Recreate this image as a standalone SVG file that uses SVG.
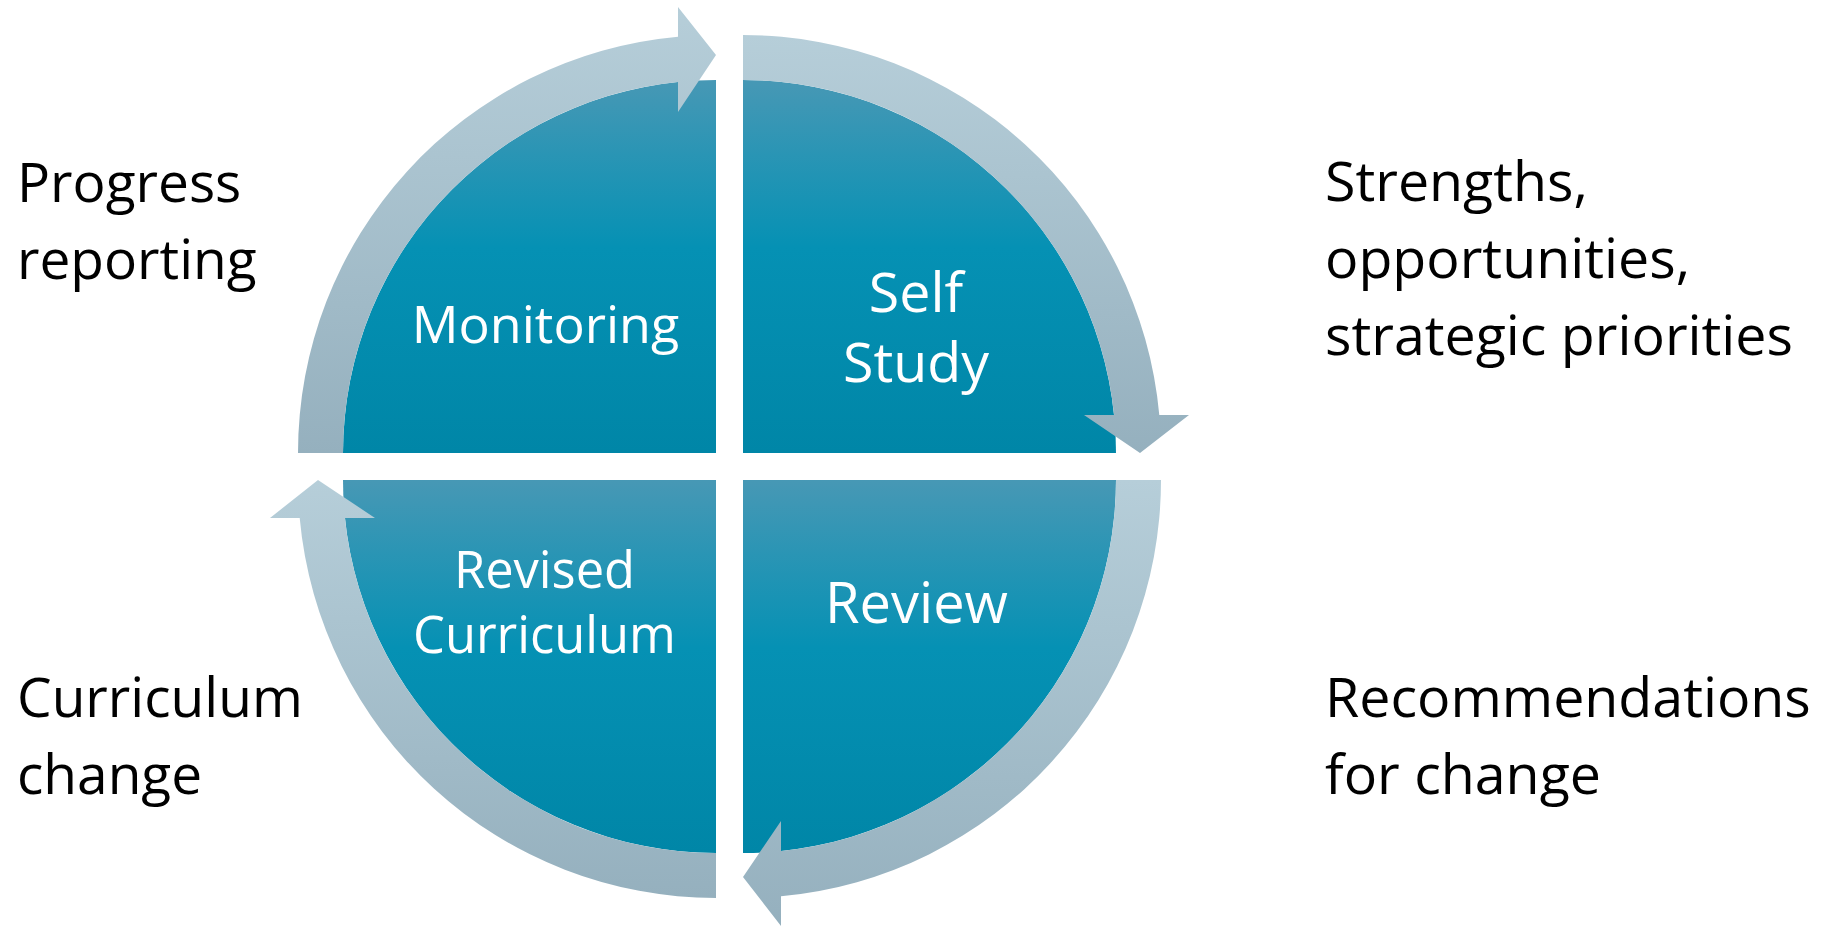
<svg xmlns="http://www.w3.org/2000/svg" width="1829" height="930" viewBox="0 0 1829 930">
  <defs>
    <linearGradient id="gFill" x1="0" y1="0" x2="0" y2="1">
      <stop offset="0" stop-color="#4798b5"/>
      <stop offset="0.45" stop-color="#0591b4"/>
      <stop offset="1" stop-color="#0086a7"/>
    </linearGradient>
    <linearGradient id="gArrow" x1="0" y1="0" x2="0" y2="1">
      <stop offset="0" stop-color="#b6ced9"/>
      <stop offset="1" stop-color="#95b0be"/>
    </linearGradient>
    <style>
      .quad { fill: url(#gFill); }
      .arrow { fill: url(#gArrow); }
      .inner { font-family: "Open Sans", "Noto Sans", sans-serif; fill: #ffffff; text-anchor: middle; }
      .side { font-family: "Open Sans", "Noto Sans", sans-serif; fill: #000000; font-size: 55px; }
      .right { font-size: 55.5px; }
    </style>
  </defs>
  <rect width="1829" height="930" fill="#ffffff"/>

  <g id="node-monitoring">
    <path class="quad" d="M716,453 L343,453 A373,373 0 0 1 716,80 Z"/>
    <text class="inner" x="545.5" y="343" font-size="52">Monitoring</text>
  </g>
  <g id="node-self-study">
    <path class="quad" d="M743,453 L743,80 A373,373 0 0 1 1116,453 Z"/>
    <text class="inner" x="916" y="312" font-size="55.5">Self</text>
    <text class="inner" x="916" y="382" font-size="55.5">Study</text>
  </g>
  <g id="node-revised-curriculum">
    <path class="quad" d="M716,480 L716,853 A373,373 0 0 1 343,480 Z"/>
    <text class="inner" x="544.5" y="588" font-size="50.6">Revised</text>
    <text class="inner" x="544.5" y="653" font-size="50.6">Curriculum</text>
  </g>
  <g id="node-review">
    <path class="quad" d="M743,480 L1116,480 A373,373 0 0 1 743,853 Z"/>
    <text class="inner" x="916.5" y="623" font-size="56">Review</text>
  </g>

  <g id="connectors">
    <path class="arrow" d="M298,453 A418,418 0 0 1 678,36.7 L678,7 L716,55 L678,112 L678,81.9 A373,373 0 0 0 343,453 Z"/>
    <path class="arrow" d="M743,35 A418,418 0 0 1 1159.3,415 L1189,415 L1140,453 L1084,415 L1114.1,415 A373,373 0 0 0 743,80 Z"/>
    <path class="arrow" d="M716,898 A418,418 0 0 1 299.7,518 L270,518 L318,480 L375,518 L344.9,518 A373,373 0 0 0 716,853 Z"/>
    <path class="arrow" d="M1161,480 A418,418 0 0 1 781,896.3 L781,926 L743,877 L781,821 L781,851.1 A373,373 0 0 0 1116,480 Z"/>
  </g>

  <g id="label-progress">
    <text class="side" x="17" y="202">Progress</text>
    <text class="side" x="17" y="279">reporting</text>
  </g>
  <g id="label-strengths">
    <text class="side right" x="1325" y="201">Strengths,</text>
    <text class="side right" x="1325" y="278">opportunities,</text>
    <text class="side right" x="1325" y="355">strategic priorities</text>
  </g>
  <g id="label-curriculum-change">
    <text class="side" x="17" y="717">Curriculum</text>
    <text class="side" x="17" y="794">change</text>
  </g>
  <g id="label-recommendations">
    <text class="side right" x="1325" y="717">Recommendations</text>
    <text class="side right" x="1325" y="794">for change</text>
  </g>
</svg>
